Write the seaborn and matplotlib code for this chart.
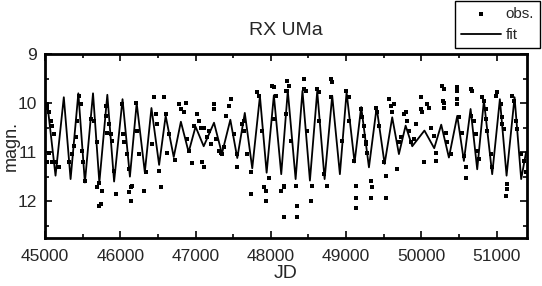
import matplotlib
matplotlib.use("Agg")
import matplotlib.pyplot as plt
from matplotlib.ticker import MultipleLocator
import seaborn as sns
import pandas as pd

# fit curve (extrema)
fit_jd = [45000, 45030, 45140, 45250, 45340, 45443, 45530, 45638, 45722, 45828,
          45918, 46030, 46128, 46218, 46326, 46414, 46516, 46603, 46710, 46805,
          46908, 47000, 47108, 47245, 47350, 47462, 47554, 47654, 47753, 47855,
          47944, 48040, 48138, 48225, 48329, 48420, 48519, 48616, 48714, 48815,
          48917, 49006, 49112, 49200, 49303, 49405, 49511, 49612, 49701, 49790,
          49878, 50040, 50170, 50263, 50365, 50476, 50564, 50653, 50741, 50830,
          50940, 51042, 51131, 51237, 51325, 51390]
fit_mag = [10.10, 10.00, 11.48, 9.88, 11.55, 9.80, 11.62, 9.80, 11.62, 9.83,
           11.60, 9.92, 11.50, 10.00, 11.41, 10.10, 11.26, 10.26, 11.10, 10.38,
           11.00, 10.48, 10.88, 10.40, 11.03, 10.34, 11.12, 10.20, 11.33, 9.86,
           11.42, 9.84, 11.45, 9.75, 11.55, 9.75, 11.58, 9.76, 11.55, 9.85,
           11.45, 9.78, 11.21, 10.08, 11.31, 10.09, 11.24, 10.29, 11.04, 10.46,
           10.88, 10.56, 10.92, 10.44, 11.11, 10.26, 11.18, 10.12, 11.35, 9.95,
           11.45, 9.92, 11.48, 9.88, 11.55, 11.00]

# observations
obs_jd = [45031, 45031, 45053, 45076, 45098, 45120, 45053, 45031, 45098, 45142,
          45186, 45319, 45363, 45385, 45408, 45430, 45452, 45474, 45487, 45509,
          45527, 45607, 45651, 45695, 45695, 45717, 45762, 45717, 45740, 45806,
          45806, 45828, 45850, 45872, 45895, 45917, 45939, 46027, 46041, 46049,
          46204, 46226, 46093, 46115, 46138, 46115, 46138, 46160, 46315, 46248,
          46337, 46425, 46447, 46470, 46492, 46514, 46536, 46580, 46602, 46625,
          46647, 46726, 46779, 46802, 46868, 46846, 46890, 46912, 46950, 46979,
          47045, 47023, 47067, 47089, 47111, 47112, 47156, 47178, 47201, 47245,
          47245, 47267, 47311, 47333, 47355, 47378, 47400, 47444, 47466, 47510,
          47555, 47555, 47621, 47643, 47643, 47688, 47732, 47732, 47820, 47842,
          47887, 47909, 47931, 47931, 47975, 48020, 48042, 48064, 48042, 48130,
          48174, 48197, 48218, 48240, 48218, 48196, 48263, 48174, 48329, 48351,
          48351, 48174, 48440, 48440, 48462, 48484, 48528, 48550, 48617, 48639,
          48639, 48705, 48750, 48794, 48816, 48794, 48949, 48993, 49037, 49037,
          49104, 49126, 49126, 49126, 49192, 49214, 49236, 49236, 49259, 49258,
          49280, 49325, 49347, 49325, 49391, 49413, 49435, 49502, 49524, 49524,
          49568, 49590, 49634, 49612, 49679, 49701, 49723, 49767, 49789, 49812,
          49834, 49856, 49900, 49922, 49989, 49989, 50011, 50033, 50077, 50099,
          50121, 50166, 50188, 50188, 50276, 50298, 50290, 50298, 50321, 50299,
          50299, 50343, 50388, 50476, 50476, 50476, 50476, 50498, 50542, 50565,
          50587, 50587, 50653, 50675, 50653, 50697, 50720, 50742, 50764, 50808,
          50830, 50852, 50852, 50875, 50919, 50941, 50985, 51007, 51052, 51074,
          51074, 51096, 51140, 51140, 51118, 51207, 51229, 51251, 51273, 51317,
          51361, 51384]
obs_mag = [10.02, 10.09, 10.19, 10.36, 10.46, 10.63, 11.01, 11.21, 11.21, 11.21,
           11.31, 11.21, 11.04, 10.87, 10.70, 10.36, 9.85, 10.02, 10.97, 11.21,
           11.59, 10.33, 10.36, 10.80, 11.72, 11.62, 11.80, 12.10, 12.06, 10.05,
           10.26, 10.60, 10.43, 10.63, 10.77, 11.38, 11.86, 10.02, 10.63, 10.80,
           9.99, 10.56, 11.04, 11.35, 11.72, 11.82, 11.99, 11.69, 11.79, 11.04,
           11.41, 10.84, 9.88, 10.22, 10.43, 11.38, 11.72, 9.88, 10.22, 11.01,
           10.63, 11.16, 10.02, 10.12, 9.99, 10.19, 10.73, 10.97, 11.22, 10.46,
           10.36, 10.22, 10.50, 11.21, 11.31, 10.50, 10.70, 10.56, 10.84, 10.12,
           10.02, 10.73, 10.97, 11.01, 11.04, 10.90, 10.26, 10.05, 9.92, 10.63,
           11.04, 11.31, 10.43, 10.36, 10.56, 11.04, 11.41, 11.86, 9.78, 9.85,
           10.56, 11.72, 11.79, 11.99, 11.52, 9.65, 9.68, 9.85, 10.33, 11.79,
           11.72, 9.75, 9.54, 9.65, 9.75, 10.22, 10.77, 11.69, 11.69, 12.10,
           12.33, 12.33, 9.51, 9.71, 9.75, 10.56, 11.99, 11.69, 9.71, 9.78,
           10.36, 11.45, 11.69, 9.51, 9.58, 9.88, 10.77, 9.75, 9.88, 10.36,
           11.18, 11.69, 11.93, 12.13, 10.12, 10.29, 10.46, 10.67, 10.84, 10.80,
           11.01, 11.59, 11.72, 11.93, 10.09, 10.19, 10.46, 11.21, 11.48, 11.93,
           9.92, 10.05, 10.02, 10.19, 11.35, 10.80, 10.70, 10.22, 10.19, 10.36,
           10.56, 10.80, 10.73, 10.43, 9.88, 10.12, 10.19, 11.21, 10.02, 10.09,
           10.50, 10.67, 11.18, 11.01, 9.65, 9.71, 9.95, 10.09, 10.60, 9.99,
           10.09, 10.80, 11.04, 9.68, 9.75, 9.92, 10.02, 10.29, 10.60, 11.07,
           11.31, 11.52, 9.71, 9.75, 10.26, 10.36, 10.63, 10.97, 11.14, 9.88,
           9.95, 10.12, 10.33, 10.56, 11.04, 11.31, 9.85, 9.78, 10.02, 10.29,
           10.43, 10.53, 11.65, 11.76, 11.89, 9.85, 9.95, 10.36, 10.53, 11.04,
           11.18, 11.41]

x_ticks = [45000, 46000, 47000, 48000, 49000, 50000, 51000]
y_ticks = [9, 10, 11, 12]

fit_df = pd.DataFrame({"JD": fit_jd, "magn": fit_mag})
obs_df = pd.DataFrame({"JD": obs_jd, "magn": obs_mag})

sns.set_style("ticks")
plt.rcParams["font.family"] = ["Liberation Sans", "DejaVu Sans"]

fig = plt.figure(figsize=(5.42, 2.86), dpi=100)
ax = fig.add_axes([0.083, 0.168, 0.889, 0.643])

sns.scatterplot(data=obs_df, x="JD", y="magn", ax=ax, marker="s", s=6,
                color="black", edgecolor="black", linewidth=0, label="obs.")
sns.lineplot(data=fit_df, x="JD", y="magn", ax=ax, color="black",
             linewidth=1.3, estimator=None, label="fit",
             solid_joinstyle="round")

ax.set_xlim(45000, 51400)
ax.set_ylim(12.75, 9)
ax.set_xticks(x_ticks)
ax.set_yticks(y_ticks)
ax.xaxis.set_minor_locator(MultipleLocator(500))
ax.yaxis.set_minor_locator(MultipleLocator(0.5))
ax.tick_params(which="both", direction="in", top=True, right=True,
               color="black", width=1.2, labelsize=12.5, pad=6)
ax.tick_params(axis="x", which="major", pad=8)
ax.tick_params(which="major", length=5)
ax.tick_params(which="minor", length=3)
for sp in ax.spines.values():
    sp.set_linewidth(2)
    sp.set_color("black")

ax.set_xlabel("JD", fontsize=14, labelpad=1)
ax.set_ylabel("magn.", fontsize=13)
ax.yaxis.set_label_coords(-0.052, 0.5)
ax.set_title("RX UMa", fontsize=14, pad=14)

leg = ax.legend(loc="upper right", bbox_to_anchor=(540 / 542, 1 - 1 / 286),
                bbox_transform=fig.transFigure, fontsize=11, frameon=True,
                fancybox=False, edgecolor="black", framealpha=1,
                handlelength=2.6, handletextpad=0.3, borderpad=0.4,
                labelspacing=0.45, borderaxespad=0, markerscale=1.3)
leg.get_frame().set_linewidth(1)

fig.savefig("out.png", dpi=100)
